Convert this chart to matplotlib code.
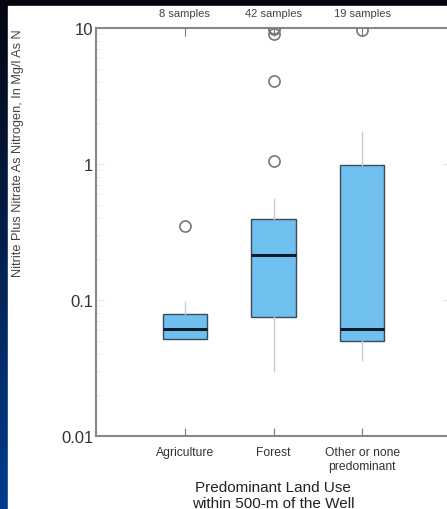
import numpy as np
import matplotlib
matplotlib.use('Agg')
from matplotlib import pyplot as plt
from matplotlib.patches import Rectangle

plt.rcParams['font.family'] = ['Liberation Sans', 'DejaVu Sans']

categories = ['Agriculture', 'Forest', 'Other or none\npredominant']
counts = ['8 samples', '42 samples', '19 samples']
q1 = [0.052, 0.075, 0.050]
med = [0.061, 0.214, 0.061]
q3 = [0.079, 0.394, 0.984]
whislo = [0.052, 0.030, 0.036]
whishi = [0.097, 0.553, 1.72]
fliers = [[0.35], [1.05, 4.08, 9.0, 9.9, 10.0], [9.7]]
yticks = [0.01, 0.1, 1, 10]
ylabels = ['0.01', '0.1', '1', '10']

W, H = 447, 510
fig = plt.figure(figsize=(W / 100, H / 100), dpi=100)

##### dark blue frame
bg = fig.add_axes([0, 0, 1, 1])
grad = np.linspace(0, 1, 256).reshape(-1, 1)
top = np.array([0.02, 0.02, 0.06])
bot = np.array([0.0, 0.24, 0.56])
img = top + (bot - top) * grad[:, :, None]
bg.imshow(img, extent=[0, W, 0, H], aspect='auto', origin='upper')
bg.add_patch(Rectangle((8, 0), W - 8, H - 7, color='white', zorder=2))
bg.set_xlim(0, W), bg.set_ylim(0, H)
bg.axis('off')

##### box plot
x0, x1 = 96 / W, 451 / W
y0, y1 = (H - 437) / H, (H - 29) / H
ax = fig.add_axes([x0, y0, x1 - x0, y1 - y0])
ax.patch.set_alpha(0)

stats = []
for i in range(3):
    stats.append(dict(q1=q1[i], med=med[i], q3=q3[i], whislo=whislo[i],
                      whishi=whishi[i], fliers=fliers[i]))

ax.bxp(stats, positions=[1, 2, 3], widths=0.5, patch_artist=True,
       showcaps=False,
       boxprops=dict(facecolor='#6fc0ee', edgecolor='#3a4a5a', linewidth=1.0),
       medianprops=dict(color='#0a1a2a', linewidth=2.2),
       whiskerprops=dict(color='#cccccc', linewidth=1.0),
       flierprops=dict(marker='o', markersize=8, markerfacecolor='none',
                       markeredgecolor='#777777', markeredgewidth=1.2),
       zorder=3)

ax.set_yscale('log')
ax.set_ylim(0.01, 10)
ax.set_xlim(0, 4)
ax.set_yticks(yticks)
ax.set_yticklabels(ylabels, fontsize=12, color='#333333')
ax.set_xticks([1, 2, 3])
ax.set_xticklabels(categories, fontsize=8.7, color='#333333', linespacing=1.25)

for s in ['left', 'top', 'bottom']:
    ax.spines[s].set_color('#888888')
    ax.spines[s].set_linewidth(1.5)
ax.spines['right'].set_visible(False)
ax.tick_params(axis='both', which='both', direction='in', color='#777777',
               top=True, right=True)
ax.tick_params(axis='y', which='major', length=6, pad=2)
ax.tick_params(axis='y', which='minor', length=3)
ax.tick_params(axis='x', which='major', length=6, pad=7)
ax.tick_params(axis='y', which='both', right=True, color='#e4e4e4')

for i in range(3):
    ax.text(i + 1, 1.0 + 10 / 408, counts[i], ha='center', va='bottom',
            fontsize=8, color='#444444', clip_on=False,
            transform=ax.get_xaxis_transform())

fig.text(273 / W, 1 - 496 / H, 'Predominant Land Use\nwithin 500-m of the Well',
         ha='center', va='center', fontsize=11, color='#222222', linespacing=1.15)
fig.text(18 / W, 1 - 153 / H, 'Nitrite Plus Nitrate As Nitrogen, In Mg/l As N',
         ha='center', va='center', rotation=90, fontsize=9.2, color='#444444')

plt.savefig('out.png', dpi=100)
